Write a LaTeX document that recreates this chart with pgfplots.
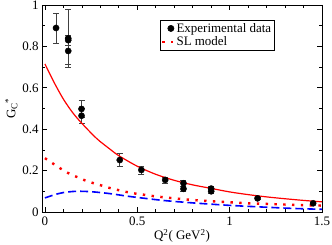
\documentclass[border=0pt]{standalone}
\usepackage{fontspec}
\setmainfont{Liberation Serif}
\usepackage{pgfplots}
\pgfplotsset{compat=1.18}
\pgfplotsset{shortline/.style={legend image code/.code={\draw[##1] (0bp,0bp) -- (11bp,0bp);}}}
\begin{document}
\begin{tikzpicture}
\begin{axis}[
  scale only axis, width=280bp, height=207bp,
  xmin=-0.016, xmax=1.5, ymin=0, ymax=1,
  xtick={0,0.5,1,1.5}, ytick={0,0.2,0.4,0.6,0.8,1},
  xticklabels={0,0.5,1,1.5}, yticklabels={0,0.2,0.4,0.6,0.8,1},
  minor x tick num=4, minor y tick num=1,
  tick align=inside, major tick length=5bp, minor tick length=3bp,
  xtick pos=both, ytick pos=both,
  axis line style={line width=0.8bp},
  every tick/.style={black, line width=0.7bp},
  tick label style={font=\fontsize{13}{15}\selectfont},
  xticklabel style={yshift=-1bp},
  label style={font=\fontsize{13}{15}\selectfont},
  xlabel={Q\textsuperscript{2}( GeV\textsuperscript{2})},
  ylabel={G\textsubscript{C}\textsuperscript{*}},
  xlabel style={yshift=3bp},
  ylabel style={yshift=-2bp},
  legend style={at={(rel axis cs:0.421,0.928)}, anchor=north west,
    font=\fontsize{13}{14}\selectfont, draw=black, line width=0.6bp,
    inner sep=1bp, row sep=-1bp, cells={anchor=west}},
]
\addplot[only marks, mark=*, mark size=3.1bp, black,
  error bars/.cd, y dir=both, y explicit,
  error bar style={black!75, line width=0.6bp},
  error mark options={rotate=90, mark size=3bp, black!75, line width=0.6bp}]
  table[x=x, y=y, y error=e] {
x y e
0.06 0.889 0.073
0.126 0.839 0.14
0.126 0.83 0.025
0.126 0.778 0.065
0.198 0.498 0.04
0.198 0.465 0.035
0.405 0.251 0.032
0.522 0.203 0.02
0.651 0.155 0.015
0.75 0.139 0.015
0.75 0.112 0.012
0.9 0.113 0.012
0.9 0.100 0.01
1.151 0.066 0.006
1.452 0.042 0.006
};
\addlegendentry{Experimental data}
\addplot[red, line width=2.4bp, dash pattern=on 2.4bp off 6.4bp, smooth, shortline]
  coordinates {
(0,0.26) (0.045,0.233) (0.086,0.209) (0.126,0.188) (0.171,0.17)
(0.216,0.153) (0.26,0.14) (0.306,0.128) (0.351,0.116) (0.396,0.106)
(0.44,0.097) (0.49,0.089) (0.54,0.083) (0.585,0.077) (0.635,0.072)
(0.7,0.066) (0.8,0.058) (0.9,0.052) (1.0,0.047) (1.1,0.042)
(1.2,0.039) (1.3,0.036) (1.4,0.033) (1.5,0.031)};
\addlegendentry{SL model}
\addplot[red, line width=1.2bp, smooth, forget plot] coordinates {
(0,0.715) (0.05,0.625) (0.1,0.545) (0.15,0.48) (0.2,0.428) (0.28,0.355)
(0.35,0.305) (0.4,0.272) (0.5,0.221) (0.6,0.182) (0.7,0.153) (0.8,0.131)
(0.9,0.114) (1.0,0.097) (1.1,0.084) (1.2,0.073) (1.3,0.064) (1.4,0.056) (1.5,0.049)};
\addplot[blue, line width=1.6bp, dash pattern=on 8bp off 4bp, smooth, forget plot] coordinates {
(0,0.068) (0.05,0.083) (0.1,0.094) (0.17,0.1) (0.25,0.098) (0.35,0.089)
(0.45,0.076) (0.55,0.065) (0.65,0.055) (0.8,0.044) (1.0,0.032) (1.2,0.023)
(1.35,0.017) (1.5,0.013)};
\end{axis}
\pgfresetboundingbox
\path[use as bounding box] ([xshift=-42bp,yshift=-33bp]current axis.south west) rectangle ([xshift=10bp,yshift=5bp]current axis.north east);
\end{tikzpicture}
\end{document}
